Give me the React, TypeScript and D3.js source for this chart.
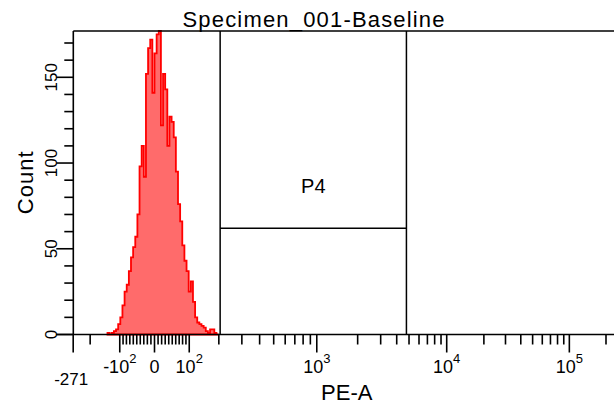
import React from 'react';
import * as d3 from 'd3';

const title = 'Specimen_001-Baseline';
const xLabel = 'PE-A';
const yLabel = 'Count';
const gateName = 'P4';

// histogram: counts per display channel (256 channels across the logicle axis)
const channelCount = 256;
const firstChannel = 16;
const counts = [
  1, 0, 1, 2, 3, 6, 10, 17, 25, 29, 37, 45, 51, 57, 70, 98, 110, 92, 152, 167,
  172, 141, 164, 175, 177, 122, 152, 143, 110, 127, 124, 115, 95, 76, 66, 52, 43, 37, 25, 31,
  19, 10, 7, 6, 5, 4, 2, 1, 3, 3, 1, 0,
];

const yMax = 177;
const yMajorTicks = [0, 50, 100, 150];
const yTickLabels = ['0', '50', '100', '150'];

// biexponential (logicle) axis settings
const topValue = 262144;
const linWidth = 0.668;
const decades = 4.5;
const xMin = -271;
const xMajorTicks = [-100, 0, 100, 1000, 10000, 100000];
const xTickLabels = [['-10', '2'], ['0', ''], ['10', '2'], ['10', '3'], ['10', '4'], ['10', '5']];

const gateRange = [205, 4770];
const gateLevel = 62;

const W = 614;
const H = 409;
const left = 73.3;
const right = 620.3;
const top = 31;
const bottom = 334.5;

function makeLogicle(T: number, Wd: number, M: number) {
  const w = Wd / M;
  const x1 = w;
  const x0 = 2 * w;
  const b = M * Math.LN10;
  let lo = 1e-12;
  let hi = b;
  for (let i = 0; i < 200; i++) {
    const mid = (lo + hi) / 2;
    const g = 2 * (Math.log(mid) - Math.log(b)) + w * (b + mid);
    if (g > 0) hi = mid;
    else lo = mid;
  }
  const d = (lo + hi) / 2;
  const ca = Math.exp(x0 * (b + d));
  const fa = Math.exp(b * x1) - ca * Math.exp(-d * x1);
  const a = T / (Math.exp(b) - fa - ca * Math.exp(-d));
  const c = ca * a;
  const f = fa * a;
  const pos = (y: number) => a * Math.exp(b * y) - c * Math.exp(-d * y) - f;
  const S = (y: number) => (y >= x1 ? pos(y) : -pos(2 * x1 - y));
  // data value -> display fraction
  return (v: number) => {
    let l = -1;
    let h = 2;
    for (let i = 0; i < 80; i++) {
      const m = (l + h) / 2;
      if (S(m) > v) h = m;
      else l = m;
    }
    return (l + h) / 2;
  };
}

const logicle = makeLogicle(topValue, linWidth, decades);
const xDisplay = d3.scaleLinear().domain([0, 1]).range([left, right]);
const xPos = (v: number) => xDisplay(logicle(v));
const yScale = d3.scaleLinear().domain([0, yMax]).range([bottom, top]);

const yMinorTicks = d3.range(0, yMax, 10).filter((v) => v % 50 !== 0);
const xMinorTicks = [
  -200,
  ...d3.range(-90, 0, 10),
  ...d3.range(10, 100, 10),
  ...d3.range(200, 1000, 100),
  ...d3.range(2000, 10000, 1000),
  ...d3.range(20000, 100000, 10000),
  200000,
];

const font = '"Liberation Sans", Arial, sans-serif';
const ink = '#000';

export default function App() {
  const bins = counts.map((c, i) => ({ ch: firstChannel + i, c }));
  bins.push({ ch: firstChannel + counts.length, c: 0 });
  const area = d3
    .area<{ ch: number; c: number }>()
    .x((d) => xDisplay(d.ch / channelCount))
    .y0(yScale(0))
    .y1((d) => yScale(d.c))
    .curve(d3.curveStepAfter);

  const gx0 = xPos(gateRange[0]);
  const gx1 = xPos(gateRange[1]);
  const gy = yScale(gateLevel);

  return (
    <svg
      width={W}
      height={H}
      style={{ position: 'absolute', left: 0, top: 0, background: '#fff' }}
      fontFamily={font}
    >
      <rect width={W} height={H} fill="#fff" />
      <path d={area(bins) || ''} fill="#ff6b6b" stroke="#ff0000" strokeWidth={1.8} />

      {/* frame */}
      <g stroke={ink} strokeWidth={1.6} fill="none">
        <line x1={left} y1={top} x2={right} y2={top} />
        <line x1={left} y1={top} x2={left} y2={bottom} />
        <line x1={left - 17} y1={bottom} x2={right} y2={bottom} />
        <line x1={right} y1={top} x2={right} y2={bottom} />
      </g>

      {/* gate */}
      <g stroke={ink} strokeWidth={1.5}>
        <line x1={gx0} y1={top} x2={gx0} y2={bottom} />
        <line x1={gx1} y1={top} x2={gx1} y2={bottom} />
        <line x1={gx0} y1={gy} x2={gx1} y2={gy} />
      </g>
      <text x={(gx0 + gx1) / 2} y={192.5} fontSize={20} textAnchor="middle" fill={ink}>
        {gateName}
      </text>

      {/* y axis */}
      <g stroke={ink} strokeWidth={1.6}>
        {yMinorTicks.map((v) => (
          <line key={v} x1={left - 9} x2={left} y1={yScale(v)} y2={yScale(v)} />
        ))}
        {yMajorTicks.map((v) => (
          <line key={v} x1={left - 17} x2={left} y1={yScale(v)} y2={yScale(v)} />
        ))}
      </g>
      {yMajorTicks.map((v, i) => (
        <text
          key={v}
          transform={`translate(57,${yScale(v)}) rotate(-90)`}
          fontSize={17}
          textAnchor="middle"
          fill={ink}
        >
          {yTickLabels[i]}
        </text>
      ))}
      <text
        transform={`translate(33,${(top + bottom) / 2}) rotate(-90)`}
        fontSize={22}
        textAnchor="middle"
        textLength={63}
        fill={ink}
      >
        {yLabel}
      </text>

      {/* x axis */}
      <g stroke={ink} strokeWidth={1.6}>
        {xMinorTicks.map((v) => (
          <line key={v} x1={xPos(v)} x2={xPos(v)} y1={bottom} y2={bottom + 10} />
        ))}
        {[xMin, ...xMajorTicks].map((v) => (
          <line key={v} x1={xPos(v)} x2={xPos(v)} y1={bottom} y2={bottom + 18} />
        ))}
      </g>
      {xMajorTicks.map((v, i) => (
        <text key={v} x={xPos(v)} y={372.5} fontSize={18} textAnchor="middle" fill={ink}>
          <tspan>{xTickLabels[i][0]}</tspan>
          {xTickLabels[i][1] && (
            <tspan dy={-10} fontSize={13}>
              {xTickLabels[i][1]}
            </tspan>
          )}
        </text>
      ))}
      <text x={xPos(xMin) - 2} y={384.5} fontSize={17} textAnchor="middle" fill={ink}>
        {String(xMin)}
      </text>
      <text x={(left + right) / 2} y={400} fontSize={22} textAnchor="middle" fill={ink}>
        {xLabel}
      </text>

      <text x={313.5} y={27} fontSize={22} textAnchor="middle" textLength={262} fill={ink}>
        {title}
      </text>
    </svg>
  );
}
